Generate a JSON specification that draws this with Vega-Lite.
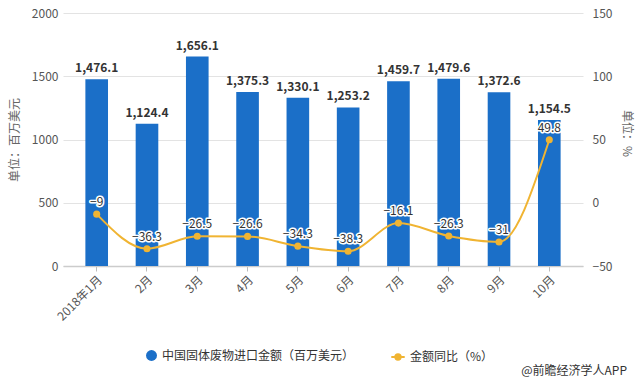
{
  "$schema": "https://vega.github.io/schema/vega-lite/v6.json",
  "width": 520,
  "height": 253,
  "autosize": "none",
  "padding": {"left": 63, "top": 13, "right": 57, "bottom": 121},
  "config": {
    "font": "Noto Sans CJK SC",
    "view": {"stroke": null},
    "axis": {"labelFont": "Noto Sans CJK SC", "titleFont": "Noto Sans CJK SC"}
  },
  "title": {
    "text": "@前瞻经济学人APP",
    "orient": "bottom",
    "anchor": "end",
    "frame": "group",
    "fontSize": 12,
    "fontWeight": "normal",
    "color": "#333333",
    "dx": 44,
    "offset": 2
  },
  "data": {
    "values": [
      {"month": "2018年1月", "amount": 1476.1, "yoy": -9},
      {"month": "2月", "amount": 1124.4, "yoy": -36.3},
      {"month": "3月", "amount": 1656.1, "yoy": -26.5},
      {"month": "4月", "amount": 1375.3, "yoy": -26.6},
      {"month": "5月", "amount": 1330.1, "yoy": -34.3},
      {"month": "6月", "amount": 1253.2, "yoy": -38.3},
      {"month": "7月", "amount": 1459.7, "yoy": -16.1},
      {"month": "8月", "amount": 1479.6, "yoy": -26.3},
      {"month": "9月", "amount": 1372.6, "yoy": -31},
      {"month": "10月", "amount": 1154.5, "yoy": 49.8}
    ]
  },
  "encoding": {
    "x": {
      "field": "month",
      "type": "ordinal",
      "sort": null,
      "scale": {"paddingInner": 0.55, "paddingOuter": 0.445},
      "axis": {
        "title": null,
        "labelAngle": -45,
        "labelFontSize": 12,
        "labelColor": "#555555",
        "labelPadding": 3,
        "ticks": true,
        "tickSize": 5,
        "tickColor": "#bbbbbb",
        "domainColor": "#cccccc",
        "domainWidth": 1.5,
        "grid": false
      }
    }
  },
  "layer": [
    {
      "encoding": {
        "y": {
          "field": "amount",
          "type": "quantitative",
          "scale": {"domain": [0, 2000]},
          "axis": {
            "orient": "left",
            "values": [0, 500, 1000, 1500, 2000],
            "format": "d",
            "title": "单位：百万美元",
            "titleFontSize": 12,
            "titleFontWeight": "normal",
            "titleColor": "#666666",
            "titlePadding": 10,
            "labelFontSize": 12,
            "labelColor": "#555555",
            "labelPadding": 5,
            "ticks": false,
            "domain": false,
            "grid": true,
            "gridColor": "#e3e3e3"
          }
        }
      },
      "layer": [
        {
          "mark": {"type": "bar"},
          "encoding": {
            "fill": {
              "datum": "中国固体废物进口金额（百万美元）",
              "scale": {"range": ["#1B6FC8"]},
              "legend": {
                "title": null,
                "orient": "none",
                "legendX": 82,
                "legendY": 336,
                "symbolType": "circle",
                "symbolSize": 120,
                "labelFontSize": 12,
                "labelLimit": 400,
                "labelColor": "#333333",
                "labelFont": "Noto Sans CJK SC"
              }
            }
          }
        },
        {
          "mark": {"type": "text", "baseline": "bottom", "dy": -4, "fontSize": 12, "fontWeight": "bold", "color": "#333333"},
          "encoding": {"text": {"field": "amount", "type": "quantitative", "format": ",.1f"}}
        }
      ]
    },
    {
      "encoding": {
        "y": {
          "field": "yoy",
          "type": "quantitative",
          "scale": {"domain": [-50, 150]},
          "axis": {
            "orient": "right",
            "values": [-50, 0, 50, 100, 150],
            "title": "单位：%",
            "titleAngle": 90,
            "titleFontSize": 12,
            "titleFontWeight": "normal",
            "titleColor": "#666666",
            "titlePadding": 8,
            "titleY": 120,
            "labelFontSize": 12,
            "labelColor": "#555555",
            "labelPadding": 9,
            "ticks": false,
            "domain": false,
            "grid": false
          }
        }
      },
      "layer": [
        {
          "mark": {"type": "line", "interpolate": "monotone", "strokeWidth": 2},
          "encoding": {
            "stroke": {
              "datum": "金额同比（%）",
              "scale": {"range": ["#F0B432"]},
              "legend": {
                "title": null,
                "orient": "none",
                "legendX": 327,
                "legendY": 336,
                "symbolType": "M-1,0H1M-0.4,0A0.4,0.4 0 1,0 0.4,0A0.4,0.4 0 1,0 -0.4,0Z",
                "symbolFillColor": "#F0B432",
                "symbolStrokeWidth": 2,
                "symbolSize": 180,
                "labelFontSize": 12,
                "labelLimit": 300,
                "labelColor": "#333333",
                "labelFont": "Noto Sans CJK SC"
              }
            }
          }
        },
        {
          "mark": {"type": "point", "filled": true, "size": 50, "color": "#F0B432", "opacity": 1},
          "encoding": {}
        },
        {
          "mark": {"type": "text", "baseline": "bottom", "dy": -5, "fontSize": 12, "stroke": "#ffffff", "strokeWidth": 3, "strokeJoin": "round", "color": "#ffffff"},
          "encoding": {"text": {"field": "yoy", "type": "quantitative", "format": "~f"}}
        },
        {
          "mark": {"type": "text", "baseline": "bottom", "dy": -5, "fontSize": 12, "color": "#333333"},
          "encoding": {"text": {"field": "yoy", "type": "quantitative", "format": "~f"}}
        }
      ]
    }
  ],
  "resolve": {"scale": {"y": "independent"}}
}
